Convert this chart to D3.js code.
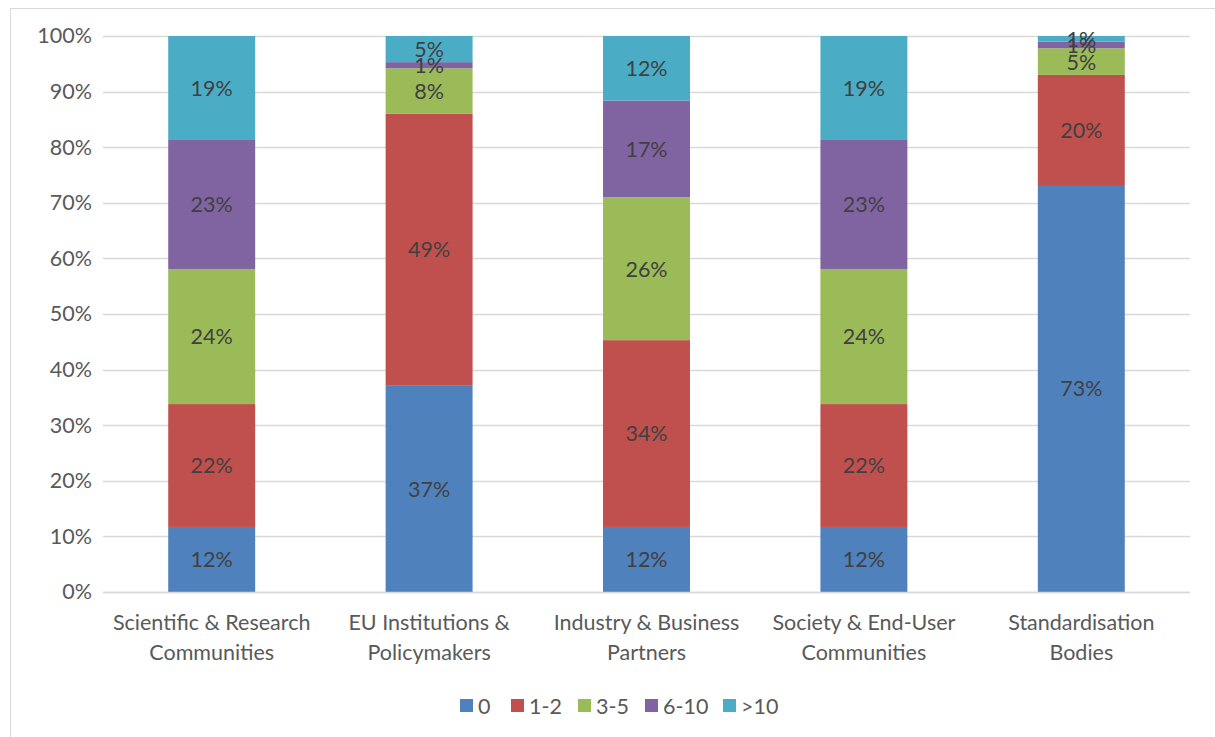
<!DOCTYPE html>
<html><head><meta charset="utf-8">
<script src="https://cdn.jsdelivr.net/npm/d3@7"></script>
<style>body{margin:0;background:#fff;} svg{display:block;}</style>
</head><body>
<svg id="chart" width="1215" height="737"></svg>
<script>
const categories = [
  ["Scientific & Research", "Communities"],
  ["EU Institutions &", "Policymakers"],
  ["Industry & Business", "Partners"],
  ["Society & End-User", "Communities"],
  ["Standardisation", "Bodies"]
];
const seriesNames = ["0", "1-2", "3-5", "6-10", ">10"];
const s0    = [11.7, 37.2, 11.7, 11.7, 73.2];
const s1_2  = [22.1, 48.8, 33.6, 22.1, 19.8];
const s3_5  = [24.3, 8.2, 25.7, 24.3, 4.8];
const s6_10 = [23.2, 1.1, 17.4, 23.2, 1.2];
const sGt10 = [18.7, 4.7, 11.6, 18.7, 1.0];
const colors = ["#4f81bd", "#c0504d", "#9bbb59", "#8064a2", "#4bacc6"];
const yTicks = [0, 0.1, 0.2, 0.3, 0.4, 0.5, 0.6, 0.7, 0.8, 0.9, 1.0];

(function () {
const seriesVals = [s0, s1_2, s3_5, s6_10, sGt10];
const rows = categories.map((c, i) => {
  const r = {key: i};
  seriesNames.forEach((n, j) => r[n] = seriesVals[j][i]);
  return r;
});

const svg = d3.select("#chart");
const font = "Lato, Open Sans, sans-serif";
const fs = 21.5;
svg.append("rect").attr("x", 10.5).attr("y", 8.5).attr("width", 1300).attr("height", 800)
  .attr("fill", "#fff").attr("stroke", "#d9d9d9");

const pL = 103, pR = 1190, pT = 36, pB = 592;
const x = d3.scaleBand().domain(d3.range(categories.length)).range([pL, pR]).paddingInner(0.6).paddingOuter(0.3);
const y = d3.scaleLinear().domain([0, 1]).range([pB, pT]);

const g = svg.append("g");
g.selectAll("line.grid").data(yTicks).join("line")
  .attr("x1", pL).attr("x2", pR)
  .attr("y1", d => Math.round(y(d)) + 0.5).attr("y2", d => Math.round(y(d)) + 0.5)
  .attr("stroke", "#d9d9d9").attr("stroke-width", 1.3);

const yAxis = d3.axisLeft(y).tickValues(yTicks).tickFormat(d3.format(".0%")).tickSize(0).tickPadding(0);
const ya = svg.append("g").attr("transform", `translate(92,0)`).call(yAxis);
ya.select(".domain").remove();
ya.selectAll("text").attr("font-family", font).attr("font-size", fs).attr("fill", "#595959");

const stack = d3.stack().keys(seriesNames).offset(d3.stackOffsetExpand);
const stacked = stack(rows);

const layers = g.selectAll("g.layer").data(stacked).join("g").attr("fill", (d, i) => colors[i]);
layers.selectAll("rect").data(d => d).join("rect")
  .attr("x", d => x(d.data.key))
  .attr("width", x.bandwidth())
  .attr("y", d => y(d[1]))
  .attr("height", d => y(d[0]) - y(d[1]));

stacked.forEach((layer) => {
  g.selectAll(null).data(layer).join("text")
    .attr("x", d => x(d.data.key) + x.bandwidth() / 2)
    .attr("y", d => (y(d[0]) + y(d[1])) / 2)
    .attr("dy", "0.37em")
    .attr("text-anchor", "middle")
    .attr("font-family", font).attr("font-size", fs).attr("fill", "#404040")
    .text(d => Math.round(d.data[layer.key]) + "%");
});

g.append("line").attr("x1", pL).attr("x2", pR).attr("y1", pB + 0.5).attr("y2", pB + 0.5)
  .attr("stroke", "#d9d9d9").attr("stroke-width", 1.3);

const xAxis = d3.axisBottom(x).tickSize(0).tickFormat("");
const xa = svg.append("g").attr("transform", `translate(0,${pB})`).call(xAxis);
xa.select(".domain").remove();
xa.selectAll(".tick").each(function(d) {
  const t = d3.select(this).append("text").attr("text-anchor", "middle")
    .attr("font-family", font).attr("font-size", fs).attr("fill", "#595959");
  categories[d].forEach((line, k) => {
    t.append("tspan").attr("x", 0).attr("y", 38 + k * 30).text(line);
  });
});

const legendX = [460, 511, 578, 645, 723];
const lg = svg.append("g");
seriesNames.forEach((n, i) => {
  const item = lg.append("g").attr("transform", `translate(${legendX[i]},706)`);
  item.append("rect").attr("x", 0).attr("y", -7).attr("width", 13).attr("height", 13).attr("fill", colors[i]);
  item.append("text").attr("x", 18).attr("y", 0).attr("dy", "0.35em")
    .attr("font-family", font).attr("font-size", fs).attr("fill", "#595959").text(n);
});
})();
</script>
</body></html>
